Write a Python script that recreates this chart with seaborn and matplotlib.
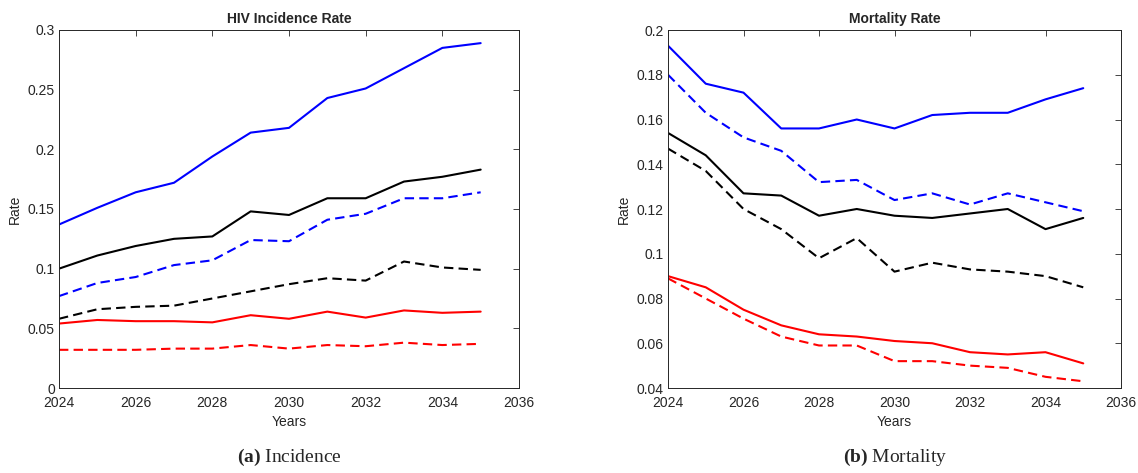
import numpy as np
import pandas as pd
import matplotlib
matplotlib.use("Agg")
import matplotlib.pyplot as plt
from matplotlib.ticker import FuncFormatter
import seaborn as sns

years = list(range(2024, 2036))

# incidence panel
inc_blue_solid = [0.137, 0.151, 0.164, 0.172, 0.194, 0.214, 0.218, 0.243, 0.251, 0.268, 0.285, 0.289]
inc_black_solid = [0.100, 0.111, 0.119, 0.125, 0.127, 0.148, 0.145, 0.159, 0.159, 0.173, 0.177, 0.183]
inc_blue_dashed = [0.077, 0.088, 0.093, 0.103, 0.107, 0.124, 0.123, 0.141, 0.146, 0.159, 0.159, 0.164]
inc_black_dashed = [0.058, 0.066, 0.068, 0.069, 0.075, 0.081, 0.087, 0.092, 0.090, 0.106, 0.101, 0.099]
inc_red_solid = [0.054, 0.057, 0.056, 0.056, 0.055, 0.061, 0.058, 0.064, 0.059, 0.065, 0.063, 0.064]
inc_red_dashed = [0.032, 0.032, 0.032, 0.033, 0.033, 0.036, 0.033, 0.036, 0.035, 0.038, 0.036, 0.037]

# mortality panel
mor_blue_solid = [0.193, 0.176, 0.172, 0.156, 0.156, 0.160, 0.156, 0.162, 0.163, 0.163, 0.169, 0.174]
mor_blue_dashed = [0.180, 0.163, 0.152, 0.146, 0.132, 0.133, 0.124, 0.127, 0.122, 0.127, 0.123, 0.119]
mor_black_solid = [0.154, 0.144, 0.127, 0.126, 0.117, 0.120, 0.117, 0.116, 0.118, 0.120, 0.111, 0.116]
mor_black_dashed = [0.147, 0.137, 0.120, 0.111, 0.098, 0.107, 0.092, 0.096, 0.093, 0.092, 0.090, 0.085]
mor_red_solid = [0.090, 0.085, 0.075, 0.068, 0.064, 0.063, 0.061, 0.060, 0.056, 0.055, 0.056, 0.051]
mor_red_dashed = [0.089, 0.080, 0.071, 0.063, 0.059, 0.059, 0.052, 0.052, 0.050, 0.049, 0.045, 0.043]


def make_df(series):
    rows = {"year": [], "rate": [], "color": [], "kind": []}
    for (color, kind), vals in series.items():
        for y, v in zip(years, vals):
            rows["year"].append(y)
            rows["rate"].append(v)
            rows["color"].append(color)
            rows["kind"].append(kind)
    return pd.DataFrame(rows)


inc_df = make_df({("blue", "solid"): inc_blue_solid, ("black", "solid"): inc_black_solid,
                  ("blue", "dashed"): inc_blue_dashed, ("black", "dashed"): inc_black_dashed,
                  ("red", "solid"): inc_red_solid, ("red", "dashed"): inc_red_dashed})
mor_df = make_df({("blue", "solid"): mor_blue_solid, ("blue", "dashed"): mor_blue_dashed,
                  ("black", "solid"): mor_black_solid, ("black", "dashed"): mor_black_dashed,
                  ("red", "solid"): mor_red_solid, ("red", "dashed"): mor_red_dashed})

sns.set_style("white")
plt.rcParams["font.family"] = ["Liberation Sans", "DejaVu Sans"]
plt.rcParams["mathtext.fontset"] = "custom"
plt.rcParams["mathtext.rm"] = "Liberation Serif"
plt.rcParams["mathtext.bf"] = "Liberation Serif:bold"

palette = {"blue": "#0000ff", "black": "#000000", "red": "#ff0000"}
dashes = {"solid": "", "dashed": (4.5, 2.5)}

fig = plt.figure(figsize=(11.38, 4.73), dpi=100)
ax1 = fig.add_axes([59 / 1138, 1 - 388 / 473, 460 / 1138, 358 / 473])
ax2 = fig.add_axes([668 / 1138, 1 - 388 / 473, 453 / 1138, 358 / 473])

fmt = FuncFormatter(lambda v, p: "%g" % round(v, 4))

for ax, df, title, ylim, yticks in [
        (ax1, inc_df, "HIV Incidence Rate", (0, 0.3), np.arange(0, 0.301, 0.05)),
        (ax2, mor_df, "Mortality Rate", (0.04, 0.2), np.arange(0.04, 0.201, 0.02))]:
    sns.lineplot(data=df, x="year", y="rate", hue="color", style="kind",
                 palette=palette, dashes=dashes, linewidth=1.5, legend=False, ax=ax)
    ax.set_xlim(2024, 2036)
    ax.set_ylim(*ylim)
    ax.set_xticks(range(2024, 2037, 2))
    ax.set_yticks(yticks)
    ax.yaxis.set_major_formatter(fmt)
    ax.tick_params(direction="in", length=4, width=0.6, top=True, right=True,
                   labelsize=10, colors="#262626", labelcolor="#262626", pad=3)
    ax.tick_params(axis="x", pad=6)
    for s in ax.spines.values():
        s.set_color("#262626")
        s.set_linewidth(0.7)
    ax.set_title(title, fontsize=10, fontweight="bold", pad=5)
    ax.set_xlabel("Years", fontsize=10, color="#262626", labelpad=3)
    ax.set_ylabel("Rate", fontsize=10, color="#262626", labelpad=4)

fig.text(289 / 1138, 1 - 457 / 473, r"$\mathbf{(a)}$ Incidence", ha="center", va="center",
         fontsize=14, family="Liberation Serif")
fig.text(895 / 1138, 1 - 457 / 473, r"$\mathbf{(b)}$ Mortality", ha="center", va="center",
         fontsize=14, family="Liberation Serif")

fig.savefig("out.png", dpi=100)
